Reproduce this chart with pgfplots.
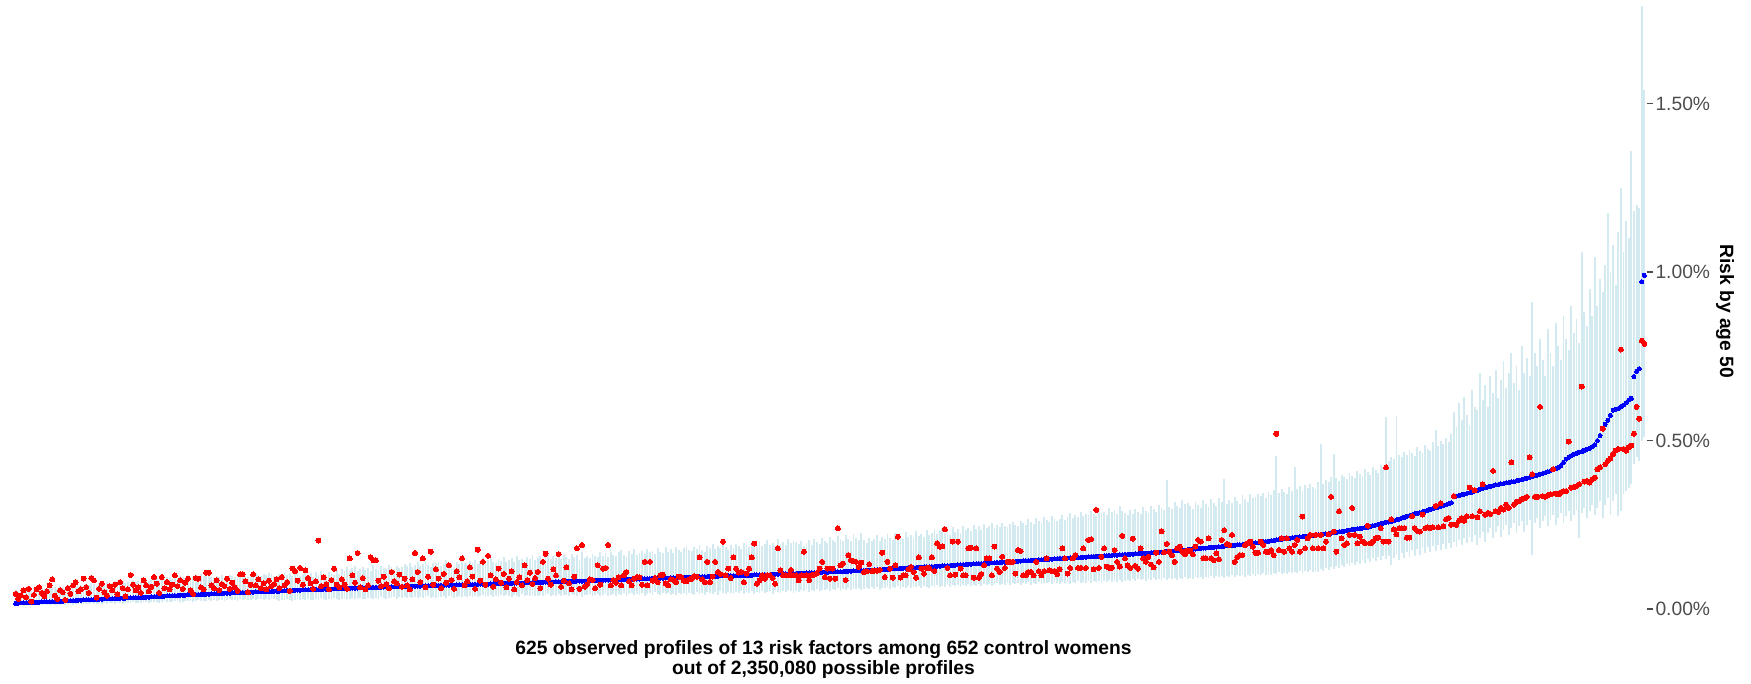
\documentclass[border=0pt]{standalone}
\usepackage{pgfplots}
\usepackage{pgfplotstable}
\pgfplotsset{compat=1.18}
\usepackage{fontspec}
\setmainfont{Liberation Sans}
\definecolor{barcol}{RGB}{212,234,241}
\definecolor{tickgray}{RGB}{77,77,77}
% values in units of 0.001 % ; b = model risk (blue), r = observed (red), l/h = interval
\pgfplotstableread{
b r l h
17 45 12 56
17 30 11 52
18 40 13 58
18 55 10 55
18 35 12 60
19 60 13 57
19 22 11 54
20 42 13 62
20 58 12 59
20 65 14 58
21 48 12 63
21 38 14 60
21 52 13 61
22 70 12 66
22 88 15 62
22 40 13 64
23 30 14 60
23 55 12 67
23 50 15 65
24 27 13 63
24 62 14 68
25 45 16 64
25 70 13 70
25 80 15 66
26 52 14 69
26 58 15 72
27 90 14 68
27 65 16 74
27 48 15 70
28 92 17 76
28 85 14 73
28 34 16 69
29 60 18 78
29 75 15 75
30 50 17 72
30 40 16 80
30 68 18 74
31 55 17 77
31 72 15 82
31 44 18 76
32 80 19 79
32 62 16 84
32 38 17 78
33 58 19 81
33 101 18 77
33 72 20 85
34 55 17 80
34 64 19 83
34 48 18 79
35 85 20 86
35 70 20 88
35 52 19 84
36 66 21 90
36 95 20 86
37 75 22 92
37 48 19 87
38 95 21 93
38 62 23 89
39 80 20 95
39 58 22 91
39 72 21 88
40 100 23 97
40 68 24 93
41 85 21 99
41 60 22 95
41 78 24 91
42 90 23 100
42 55 25 96
42 45 22 94
43 92 24 102
43 90 26 98
43 64 23 103
44 58 25 99
44 108 24 105
44 108 26 101
45 70 25 96
45 62 27 92
45 85 24 98
46 56 26 94
46 74 28 100
47 68 25 96
47 90 27 91
47 60 29 102
48 78 26 98
48 65 28 95
48 54 25 101
49 103 29 97
49 103 27 104
49 82 30 99
50 50 26 96
50 72 28 103
50 103 30 100
51 70 27 106
51 88 29 102
51 62 31 98
52 76 28 105
52 58 30 101
52 84 27 107
52 68 29 103
53 74 31 99
53 88 27 98
53 62 25 104
54 95 28 95
54 70 26 106
55 80 29 101
55 54 27 108
55 120 25 97
56 113 28 103
56 84 30 110
56 122 26 99
57 72 29 105
57 115 27 112
57 92 31 100
57 76 28 107
58 60 26 96
58 82 30 109
58 203 28 102
58 68 32 114
59 94 29 104
59 74 27 98
59 58 31 111
59 86 29 106
60 120 33 101
60 72 30 113
60 64 28 105
61 88 30 118
61 72 32 112
61 60 29 124
62 150 31 115
62 100 33 121
62 78 30 128
62 166 32 113
63 64 34 119
63 92 31 126
63 58 29 117
63 70 33 123
64 154 32 114
64 145 30 130
64 145 34 120
64 84 31 116
65 68 35 127
65 96 32 122
65 74 30 118
65 62 34 131
66 110 33 124
66 82 36 119
66 76 31 128
66 102 35 121
67 66 33 126
67 90 37 133
67 70 33 129
67 58 35 136
68 88 32 124
68 166 36 132
68 110 34 139
68 80 37 127
69 150 33 134
69 64 35 142
69 96 38 130
69 170 34 125
70 72 36 137
70 118 32 133
70 90 37 140
70 62 35 128
70 104 39 135
71 78 34 144
71 130 38 131
71 86 36 138
71 60 33 126
72 112 37 141
72 94 40 134
72 150 35 147
72 70 38 136
72 82 36 130
73 124 39 143
73 96 37 139
73 60 40 146
73 176 35 134
74 84 39 142
74 140 41 150
74 72 36 137
74 158 38 145
75 100 42 153
75 66 37 140
75 88 40 136
75 120 35 148
76 78 41 143
76 104 39 155
76 64 43 139
76 90 38 146
76 112 36 151
77 58 42 141
77 80 40 157
77 94 37 144
77 70 44 149
78 130 39 138
78 86 41 154
78 108 38 147
78 74 43 160
78 92 40 145
79 110 40 150
79 62 43 158
79 140 38 145
80 164 41 154
80 90 44 162
80 72 39 148
80 118 42 156
81 100 40 151
81 163 45 165
81 66 38 147
81 84 43 159
82 124 41 153
82 76 39 149
82 58 46 163
82 96 42 155
83 180 40 160
83 60 44 146
83 190 37 168
83 66 43 152
84 74 41 157
84 88 45 150
84 86 39 164
84 62 42 158
85 130 46 153
85 72 40 170
85 120 41 158
86 122 44 165
86 190 39 153
86 70 43 170
86 86 46 161
87 78 40 156
87 94 45 168
87 70 42 174
88 100 47 160
88 110 39 155
88 82 44 171
88 70 48 164
89 90 41 177
89 95 46 159
89 94 43 166
90 72 49 173
90 140 40 162
90 70 45 179
90 140 47 168
91 84 42 172
91 92 50 163
91 80 44 181
92 100 41 170
92 102 48 166
92 76 46 184
92 70 47 170
93 88 43 178
93 86 46 166
93 80 41 183
93 96 48 174
94 94 44 169
94 84 47 181
94 82 42 188
94 88 49 175
95 90 45 171
95 98 43 185
95 96 50 179
96 153 46 191
96 88 48 176
96 80 42 168
96 140 51 187
97 80 47 182
97 96 45 194
97 140 50 178
97 110 43 186
98 104 52 180
98 200 48 197
98 100 46 184
98 120 51 175
99 92 49 190
99 153 45 182
99 120 50 192
99 108 47 186
99 110 52 178
100 80 46 196
100 105 51 189
100 120 48 183
100 153 53 199
101 194 46 191
101 75 51 185
101 85 49 202
102 100 54 188
102 90 47 194
102 100 50 205
102 100 52 190
103 92 45 197
103 75 55 186
103 180 51 207
104 115 48 193
104 100 53 200
104 100 50 191
104 100 56 209
105 116 52 196
105 100 49 203
105 100 54 198
106 85 51 192
106 100 56 201
106 170 53 187
107 100 58 197
107 86 50 206
107 100 55 191
108 102 54 209
108 106 59 199
108 120 52 194
109 140 57 212
109 95 55 202
109 120 60 196
110 90 53 215
110 120 58 204
110 90 56 198
111 240 61 218
111 130 54 207
111 135 59 201
112 86 57 221
112 160 62 209
112 145 55 203
113 142 60 224
113 140 58 212
114 125 63 206
114 138 56 227
114 110 58 204
115 112 63 197
115 133 60 212
115 112 65 201
116 114 59 208
116 114 64 219
117 116 57 203
117 167 62 214
118 95 61 207
118 140 66 223
119 120 59 210
119 93 64 205
120 130 62 226
120 215 67 213
121 93 60 218
121 100 65 209
121 100 63 229
122 118 68 215
122 125 61 221
123 110 66 212
123 93 64 232
124 153 69 217
124 120 62 224
125 105 67 214
125 122 65 235
125 122 63 219
126 153 68 227
126 113 65 236
127 195 70 222
127 185 64 231
128 186 69 240
128 237 66 225
129 122 71 234
129 100 65 221
130 200 70 243
130 102 67 230
131 200 72 238
131 120 66 227
132 100 71 246
132 100 68 234
133 180 73 241
133 182 67 232
134 93 72 250
134 180 69 238
135 93 74 245
135 104 68 235
135 130 73 253
136 150 70 241
136 150 75 247
137 100 69 256
137 185 71 240
138 120 76 249
138 110 70 244
139 155 75 255
139 122 72 247
140 140 77 242
140 140 70 253
141 140 76 259
141 105 73 250
142 175 78 245
142 172 71 262
143 100 76 254
143 100 74 248
144 110 79 266
144 110 72 257
145 100 77 251
145 140 75 269
146 112 80 260
146 100 73 254
147 112 78 272
147 150 76 263
148 115 81 257
148 112 74 275
149 113 79 266
149 104 77 260
150 118 74 268
150 180 79 279
151 150 76 263
151 105 81 274
152 122 75 284
152 150 80 269
152 160 77 280
153 122 82 272
153 122 76 288
154 180 81 276
154 122 78 283
155 205 83 278
155 207 77 292
156 118 82 281
156 294 79 275
157 122 84 296
157 155 78 284
158 180 83 289
158 126 80 280
159 122 85 300
159 123 79 287
160 175 84 294
160 140 81 283
161 126 86 305
161 217 80 291
162 150 82 286
162 130 87 278
163 122 84 293
163 209 89 282
164 128 83 298
164 120 88 288
165 180 85 281
165 150 90 302
166 140 84 292
166 155 89 285
167 132 86 306
167 124 91 296
168 167 85 289
169 140 90 310
169 231 87 300
170 168 92 293
171 193 86 384
171 170 91 303
172 160 88 297
173 140 93 318
173 180 87 307
174 185 92 300
175 170 89 322
175 163 94 311
176 173 88 316
177 173 92 305
177 162 89 298
178 185 94 318
179 205 91 309
180 200 96 301
181 150 90 322
181 150 95 312
182 210 93 304
183 150 98 326
183 145 92 315
184 165 97 307
185 148 94 329
185 205 99 318
186 234 93 385
187 193 98 311
188 190 96 324
188 220 101 316
189 140 95 333
190 154 100 320
191 160 97 312
191 160 102 337
192 190 96 325
193 195 101 317
194 200 99 340
195 185 104 328
196 167 99 332
196 167 104 341
198 200 101 336
199 190 106 345
200 170 100 330
201 170 105 348
202 175 102 339
203 160 108 352
205 520 104 455
206 175 109 344
207 210 103 357
208 170 108 348
209 210 105 341
210 180 111 361
211 170 106 350
212 190 110 420
213 205 107 355
214 170 113 364
215 274 108 350
216 180 112 368
216 210 109 358
217 220 115 372
218 180 110 362
219 220 114 355
220 180 111 376
221 220 118 490
222 180 113 372
223 200 123 384
224 222 116 378
225 333 126 393
226 230 119 460
227 170 129 388
229 290 122 381
230 210 132 399
231 190 125 391
233 195 135 385
234 220 127 404
236 300 138 396
237 220 130 389
238 195 141 410
239 215 133 401
240 200 144 394
242 195 136 416
243 247 147 407
245 195 139 399
247 200 150 422
249 210 142 412
251 212 153 405
253 240 145 428
255 200 156 418
257 420 148 570
258 200 158 438
259 266 130 452
262 236 152 445
265 222 162 572
267 240 145 458
270 240 166 450
272 240 150 466
275 212 170 457
277 212 155 472
279 275 175 463
282 240 158 455
284 232 178 480
286 230 161 470
288 280 182 462
290 240 165 487
293 242 185 476
296 240 168 468
298 242 188 495
300 306 171 530
302 242 191 483
305 314 174 500
307 245 194 491
309 266 177 508
312 270 197 497
316 250 180 520
333 335 200 585
335 250 185 540
337 262 205 610
339 270 190 560
341 262 210 630
343 275 195 575
345 360 215 545
347 275 200 650
350 352 220 600
352 272 190 590
355 290 210 700
358 370 230 620
360 280 200 665
362 285 225 600
364 282 240 690
366 410 210 640
368 290 230 710
369 288 245 625
371 300 215 680
372 295 235 735
374 310 250 655
375 300 220 700
377 435 240 760
378 310 255 670
380 318 225 720
382 320 245 650
384 325 260 780
386 328 230 700
388 333 250 745
390 450 265 690
392 400 160 910
395 333 255 760
397 333 270 720
400 600 240 800
402 335 260 740
404 333 275 690
407 338 245 830
410 340 265 760
413 415 280 720
416 342 250 850
420 340 270 780
425 345 285 740
435 350 255 870
445 350 275 800
450 497 290 770
455 360 260 900
459 362 280 820
462 365 295 860
465 370 210 790
467 660 285 1060
471 378 300 880
474 380 270 840
477 375 290 950
482 385 310 870
487 390 280 1045
500 415 300 900
515 420 320 980
535 535 270 940
548 430 310 1020
560 440 330 1175
575 447 280 1000
590 460 320 1080
593 470 340 960
595 475 275 1120
600 770 290 1250
605 475 340 1060
612 470 350 1150
620 480 360 1100
625 485 370 1360
690 520 430 1180
705 600 450 1200
713 565 440 1190
971 796 500 1790
990 787 510 1540
}\data

\begin{document}
\begin{tikzpicture}
\begin{axis}[
  at={(0,0)}, anchor=south west,
  scale only axis, width=658.8pt, height=249pt,
  xmin=-5, xmax=626, ymin=-40, ymax=1807,
  axis y line*=right, axis x line*=bottom,
  x axis line style={draw=none}, y axis line style={draw=none},
  xtick=\empty,
  ytick={0,500,1000,1500},
  yticklabels={0.00\%,0.50\%,1.00\%,1.50\%},
  yticklabel style={text=tickgray, font=\fontsize{7.7}{9}\selectfont, inner sep=1pt},
  ytick style={draw=tickgray, line width=0.5pt},
  tick align=outside, major tick length=2.2pt,
  ylabel={Risk by age 50},
  ylabel style={at={(rel axis cs:1.0474,0.5)}, rotate=180, anchor=center,
    font=\bfseries\fontsize{7.7}{9}\selectfont},
  xlabel={625 observed profiles of 13 risk factors among 652 control womens\\out of 2,350,080 possible profiles},
  xlabel style={at={(rel axis cs:0.5,0)}, anchor=north, yshift=-7.2pt, inner sep=0pt,
    align=center, font=\bfseries\fontsize{7.7}{8}\selectfont},
]
\addplot[draw=none, mark=none, forget plot,
  error bars/.cd, y dir=both, y explicit, error mark=none,
  error bar style={solid, line width=0.75pt, draw=barcol}]
  table[x expr=\coordindex+1, y=b,
        y error plus expr=\thisrow{h}-\thisrow{b},
        y error minus expr=\thisrow{b}-\thisrow{l}] {\data};
\addplot[only marks, color=blue, mark=*, mark size=0.8pt, mark options={solid, draw=blue, fill=blue, line width=0pt}]
  table[x expr=\coordindex+1, y=b] {\data};
\addplot[only marks, color=red, mark=*, mark size=1.0pt, mark options={solid, draw=red, fill=red, line width=0pt}]
  table[x expr=\coordindex+1, y=r] {\data};
\end{axis}
\pgfresetboundingbox
\path[use as bounding box] (0pt,-24.2pt) rectangle (700.4pt,249pt);
\end{tikzpicture}
\end{document}
